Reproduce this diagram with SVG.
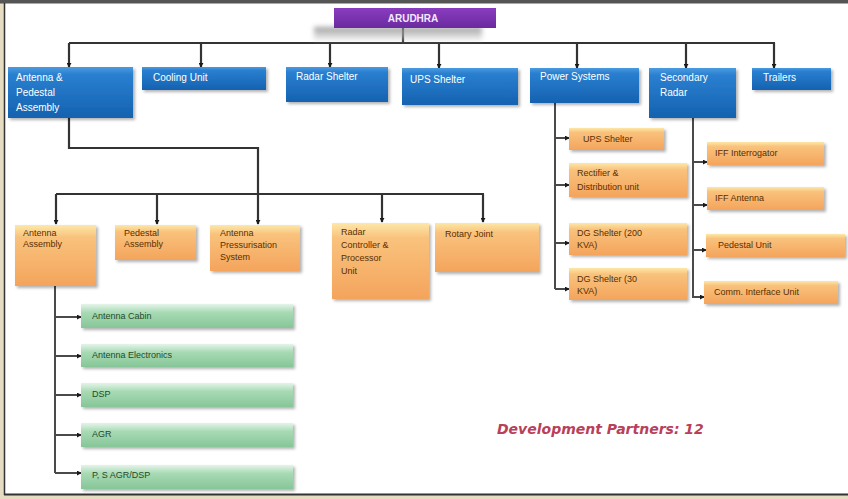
<svg xmlns="http://www.w3.org/2000/svg" width="848" height="499" viewBox="0 0 848 499">
  <defs>
    <linearGradient id="gBlue" x1="0" y1="0" x2="0" y2="1">
      <stop offset="0" stop-color="#4a9be0"/>
      <stop offset="0.15" stop-color="#2a7fd0"/>
      <stop offset="1" stop-color="#1462b0"/>
    </linearGradient>
    <linearGradient id="gPurple" x1="0" y1="0" x2="0" y2="1">
      <stop offset="0" stop-color="#8a3cc0"/>
      <stop offset="1" stop-color="#6a2a9e"/>
    </linearGradient>
    <linearGradient id="gOrange" x1="0" y1="0" x2="0" y2="1">
      <stop offset="0" stop-color="#fde8a8"/>
      <stop offset="0.2" stop-color="#f9c27c"/>
      <stop offset="1" stop-color="#f4a45c"/>
    </linearGradient>
    <linearGradient id="gGreen" x1="0" y1="0" x2="0" y2="1">
      <stop offset="0" stop-color="#e4f4ea"/>
      <stop offset="0.35" stop-color="#a8dab4"/>
      <stop offset="1" stop-color="#86c698"/>
    </linearGradient>
    <linearGradient id="gHalo" x1="0" y1="0" x2="0" y2="1">
      <stop offset="0" stop-color="#8a8a8a" stop-opacity="0.9"/>
      <stop offset="1" stop-color="#cfcfcf" stop-opacity="0.4"/>
    </linearGradient>
    <filter id="shadow" x="-10%" y="-20%" width="125%" height="150%">
      <feDropShadow dx="2" dy="2" stdDeviation="1.5" flood-color="#000" flood-opacity="0.3"/>
    </filter>
    <filter id="soft" x="-20%" y="-50%" width="140%" height="200%">
      <feGaussianBlur stdDeviation="2.5"/>
    </filter>
    <marker id="dot" viewBox="0 0 6 6" refX="5" refY="3" markerWidth="5" markerHeight="5" orient="auto" markerUnits="userSpaceOnUse">
      <path d="M0,0 L6,3 L0,6 z" fill="#1a1a1a"/>
    </marker>
  </defs>
  <style>
    .frame { fill: #ffffff; }
    .line { fill: none; stroke: #333333; stroke-width: 2.2; }
    .sub { fill: none; stroke: #4a4a4a; stroke-width: 2; }
    .blue rect { fill: url(#gBlue); filter: url(#shadow); }
    .orange rect { fill: url(#gOrange); filter: url(#shadow); }
    .green rect { fill: url(#gGreen); filter: url(#shadow); }
    .blue text { font-family: "Liberation Sans", Arial, sans-serif; font-size: 10px; fill: #ffffff; }
    .orange text { font-family: "Liberation Sans", Arial, sans-serif; font-size: 9px; fill: #5a2e00; }
    .green text { font-family: "Liberation Sans", Arial, sans-serif; font-size: 9px; fill: #1f4a2a; }
  </style>

  <!-- page frame -->
  <rect x="0" y="0" width="848" height="499" fill="#e6dcc2"/>
  <rect x="4" y="3" width="844" height="491" class="frame"/>
  <rect x="0" y="0" width="848" height="3.5" fill="#555555"/>
  <line x1="4.5" y1="3" x2="4.5" y2="495" stroke="#333333" stroke-width="1.5"/>
  <line x1="4" y1="494.5" x2="848" y2="494.5" stroke="#333333" stroke-width="2"/>

  <!-- connectors -->
  <g id="connectors">
    <!-- root bus -->
    <path class="line" d="M403,28 V43 M69,43 H775"/>
    <path class="line" marker-end="url(#dot)" d="M69,43 V67"/>
    <path class="line" marker-end="url(#dot)" d="M201,43 V67"/>
    <path class="line" marker-end="url(#dot)" d="M330,43 V67"/>
    <path class="line" marker-end="url(#dot)" d="M439,43 V68"/>
    <path class="line" marker-end="url(#dot)" d="M577,43 V68"/>
    <path class="line" marker-end="url(#dot)" d="M686,43 V68"/>
    <path class="line" marker-end="url(#dot)" d="M774,43 V68"/>
    <!-- antenna & pedestal subtree -->
    <path class="line" d="M69,118 V148 H258 V194 M56,194 H484"/>
    <path class="line" marker-end="url(#dot)" d="M56,194 V224"/>
    <path class="line" marker-end="url(#dot)" d="M157,194 V224"/>
    <path class="line" marker-end="url(#dot)" d="M258,194 V224"/>
    <path class="line" marker-end="url(#dot)" d="M382,194 V222"/>
    <path class="line" marker-end="url(#dot)" d="M483,194 V222"/>
    <!-- antenna assembly children -->
    <path class="sub" d="M55,286 V473"/>
    <path class="sub" marker-end="url(#dot)" d="M55,317 H81"/>
    <path class="sub" marker-end="url(#dot)" d="M55,356 H81"/>
    <path class="sub" marker-end="url(#dot)" d="M55,395 H81"/>
    <path class="sub" marker-end="url(#dot)" d="M55,435 H81"/>
    <path class="sub" marker-end="url(#dot)" d="M55,473 H81"/>
    <!-- power systems children -->
    <path class="sub" d="M555,103 V289"/>
    <path class="sub" marker-end="url(#dot)" d="M555,138 H569"/>
    <path class="sub" marker-end="url(#dot)" d="M555,185 H569"/>
    <path class="sub" marker-end="url(#dot)" d="M555,243 H569"/>
    <path class="sub" marker-end="url(#dot)" d="M555,289 H569"/>
    <!-- secondary radar children -->
    <path class="sub" d="M693,118 V298"/>
    <path class="sub" marker-end="url(#dot)" d="M693,162 H707"/>
    <path class="sub" marker-end="url(#dot)" d="M693,205 H707"/>
    <path class="sub" marker-end="url(#dot)" d="M693,250 H706"/>
    <path class="sub" marker-end="url(#dot)" d="M693,297 H704"/>
  </g>

  <!-- root -->
  <g id="arudhra">
    <rect x="314" y="27" width="168" height="13" fill="url(#gHalo)" filter="url(#soft)"/>
    <rect x="334" y="8" width="162" height="20" fill="url(#gPurple)"/>
    <text x="413" y="22" text-anchor="middle" font-family="Liberation Sans, Arial, sans-serif" font-size="10" font-weight="bold" fill="#f4e8ff">ARUDHRA</text>
  </g>

  <!-- level 1 -->
  <g id="antenna-pedestal-assembly" class="blue">
    <rect x="8" y="67" width="125" height="51"/>
    <text x="16" y="81">Antenna &amp;</text>
    <text x="16" y="96">Pedestal</text>
    <text x="16" y="111">Assembly</text>
  </g>
  <g id="cooling-unit" class="blue">
    <rect x="142" y="67" width="124" height="23"/>
    <text x="153" y="81">Cooling Unit</text>
  </g>
  <g id="radar-shelter" class="blue">
    <rect x="286" y="67" width="102" height="35"/>
    <text x="296" y="80">Radar Shelter</text>
  </g>
  <g id="ups-shelter" class="blue">
    <rect x="402" y="68" width="116" height="37"/>
    <text x="410" y="83">UPS Shelter</text>
  </g>
  <g id="power-systems" class="blue">
    <rect x="530" y="68" width="109" height="35"/>
    <text x="540" y="80">Power Systems</text>
  </g>
  <g id="secondary-radar" class="blue">
    <rect x="649" y="68" width="87" height="50"/>
    <text x="660" y="81">Secondary</text>
    <text x="660" y="96">Radar</text>
  </g>
  <g id="trailers" class="blue">
    <rect x="752" y="68" width="79" height="22"/>
    <text x="763" y="81">Trailers</text>
  </g>

  <!-- antenna & pedestal assembly children -->
  <g id="antenna-assembly" class="orange">
    <rect x="15" y="225" width="81" height="61"/>
    <text x="23" y="236">Antenna</text>
    <text x="23" y="247">Assembly</text>
  </g>
  <g id="pedestal-assembly" class="orange">
    <rect x="115" y="225" width="81" height="35"/>
    <text x="124" y="236">Pedestal</text>
    <text x="124" y="247">Assembly</text>
  </g>
  <g id="antenna-pressurisation-system" class="orange">
    <rect x="210" y="225" width="90" height="46"/>
    <text x="220" y="236">Antenna</text>
    <text x="220" y="248">Pressurisation</text>
    <text x="220" y="260">System</text>
  </g>
  <g id="radar-controller" class="orange">
    <rect x="332" y="223" width="97" height="76"/>
    <text x="341" y="235">Radar</text>
    <text x="341" y="248">Controller &amp;</text>
    <text x="341" y="261">Processor</text>
    <text x="341" y="274">Unit</text>
  </g>
  <g id="rotary-joint" class="orange">
    <rect x="435" y="223" width="104" height="49"/>
    <text x="445" y="237">Rotary Joint</text>
  </g>

  <!-- antenna assembly children -->
  <g id="antenna-cabin" class="green">
    <rect x="81" y="304" width="212" height="24"/>
    <text x="92" y="319">Antenna Cabin</text>
  </g>
  <g id="antenna-electronics" class="green">
    <rect x="81" y="344" width="212" height="23"/>
    <text x="92" y="358">Antenna Electronics</text>
  </g>
  <g id="dsp" class="green">
    <rect x="81" y="383" width="212" height="24"/>
    <text x="92" y="397">DSP</text>
  </g>
  <g id="agr" class="green">
    <rect x="81" y="423" width="212" height="24"/>
    <text x="92" y="437">AGR</text>
  </g>
  <g id="ps-agr-dsp" class="green">
    <rect x="81" y="465" width="212" height="24"/>
    <text x="92" y="478">P, S AGR/DSP</text>
  </g>

  <!-- power systems children -->
  <g id="ups-shelter-ps" class="orange">
    <rect x="569" y="128" width="95" height="22"/>
    <text x="583" y="142">UPS Shelter</text>
  </g>
  <g id="rectifier" class="orange">
    <rect x="569" y="163" width="118" height="34"/>
    <text x="577" y="176">Rectifier &amp;</text>
    <text x="577" y="190">Distribution  unit</text>
  </g>
  <g id="dg-shelter-200" class="orange">
    <rect x="569" y="223" width="118" height="32"/>
    <text x="577" y="236">DG Shelter (200</text>
    <text x="577" y="248">KVA)</text>
  </g>
  <g id="dg-shelter-30" class="orange">
    <rect x="569" y="268" width="118" height="32"/>
    <text x="577" y="282">DG Shelter (30</text>
    <text x="577" y="294">KVA)</text>
  </g>

  <!-- secondary radar children -->
  <g id="iff-interrogator" class="orange">
    <rect x="707" y="142" width="117" height="23"/>
    <text x="715" y="156">IFF Interrogator</text>
  </g>
  <g id="iff-antenna" class="orange">
    <rect x="707" y="187" width="117" height="23"/>
    <text x="715" y="201">IFF Antenna</text>
  </g>
  <g id="pedestal-unit" class="orange">
    <rect x="706" y="234" width="139" height="23"/>
    <text x="718" y="248">Pedestal Unit</text>
  </g>
  <g id="comm-interface-unit" class="orange">
    <rect x="704" y="281" width="134" height="23"/>
    <text x="714" y="295">Comm. Interface Unit</text>
  </g>

  <text x="497" y="434" font-family="DejaVu Sans, Verdana, sans-serif" font-size="14" font-weight="bold" font-style="italic" fill="#b8405a">Development Partners: 12</text>
</svg>
